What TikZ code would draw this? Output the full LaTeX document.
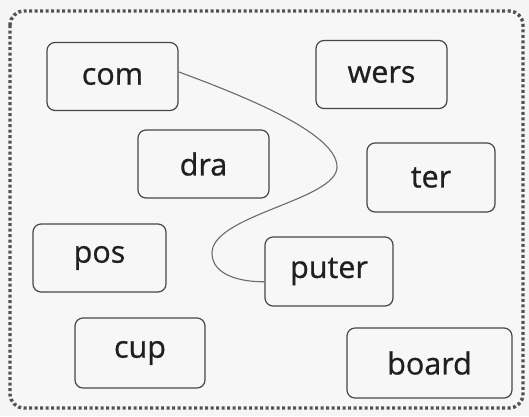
\documentclass[tikz,border=0pt]{standalone}
\usepackage{fontspec}
\setmainfont{Open Sans}
\newfontfamily\sylfont{Open Sans}[FakeBold=0.8]
\begin{document}
\begin{tikzpicture}[x=1pt,y=-1pt,
  syl/.style={draw=black!72, line width=1.2pt, rounded corners=8pt, fill=white!97!black,
    minimum width=131pt, minimum height=68pt, inner sep=0pt,
    font=\sylfont\fontsize{30.5}{32}\selectfont, text=black!88},
  link/.style={draw=black!58, line width=1.1pt}]
\useasboundingbox[fill=white!96!black] (0,0) rectangle (529,416);
\draw[black!68, line width=3.4pt, dash pattern=on 3pt off 2.5pt, rounded corners=14pt, fill=white!97!black]
  (10,11) rectangle (523,408);
\node[syl] (com) at (112.5,76.5) {com};
\node[syl] (dra) at (203.5,164) {dra};
\node[syl] (wers) at (381.5,74.5) {wers};
\node[syl, minimum width=128pt, minimum height=69pt] (ter) at (431,177.5) {ter};
\node[syl, minimum width=133pt] (pos) at (99.5,258) {pos};
\node[syl, minimum width=130pt, minimum height=70pt] (cup) at (140,353) {cup};
\node[syl, minimum width=128pt, minimum height=69pt] (puter) at (329,271.5) {puter};
\node[syl, minimum width=165pt, minimum height=70pt] (board) at (429.5,363) {board};
\draw[link] (com.4) .. controls (255,100) and (337,135) .. (337,167)
  .. controls (337,200) and (212,215) .. (212,253)
  .. controls (212,275) and (240,282) .. (puter.189);
\end{tikzpicture}
\end{document}
